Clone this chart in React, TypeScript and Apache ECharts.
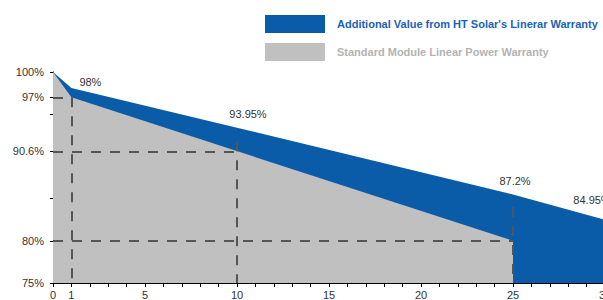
import React, { useEffect, useRef } from "react";
import * as echarts from "echarts";

const years = [0, 1, 10, 25, 30];
const htValues = [100, 98.1, 93.4, 85.5, 82.5];
const htLabels = ["", "98%", "93.95%", "87.2%", "84.95%"];
const stdYears = [0, 1, 25];
const stdValues = [100, 97, 80];
const xLabelValues = [0, 1, 5, 10, 15, 20, 25, 30];
const yLabelValues = [75, 80, 90.6, 97, 100];
const yTickValues = [75, 80, 85, 90.6, 95, 97, 100];
const seriesNames = [
  "Additional Value from HT Solar's Linerar Warranty",
  "Standard Module Linear Power Warranty",
];
// reference guide lines: [x1, y1, x2, y2]
const guideLines: number[][] = [
  [0, 97, 1, 97],
  [1, 97, 1, 75],
  [0, 90.6, 10, 90.6],
  [10, 91.8, 10, 75],
  [0, 80, 25, 80],
  [25, 84, 25, 75],
];

const FONT = "'Liberation Sans', Arial, sans-serif";
const BLUE = "#0b5ca8";
const GRAY = "#c0c0c0";

const labelOffsets: number[][] = [
  [0, 0],
  [19, -6],
  [11, -14],
  [2, -13],
  [-13, -20],
];

export default function App() {
  const ref = useRef<HTMLDivElement>(null);
  useEffect(() => {
    if (!ref.current) return;
    const chart = echarts.init(ref.current, null, { renderer: "svg" });
    const htData = years.map((y, i) => ({
      value: [y, htValues[i]],
      label: {
        show: htLabels[i] !== "",
        position: "inside",
        formatter: htLabels[i],
        offset: labelOffsets[i],
        color: "#333",
        fontSize: 11,
        fontFamily: FONT,
      },
    }));
    const stdData = stdYears.map((y, i) => [y, stdValues[i]]);
    chart.setOption({
      animation: false,
      grid: {
        left: 53,
        top: 72,
        width: 552,
        height: 211,
        containLabel: false,
        outerBoundsMode: "none",
      },
      legend: {
        orient: "vertical",
        left: 260,
        top: 10,
        itemWidth: 60,
        itemHeight: 18,
        itemGap: 10,
        icon: "rect",
        selectedMode: false,
        data: [
          { name: seriesNames[0], textStyle: { color: "#1a62b6" } },
          { name: seriesNames[1], textStyle: { color: "#b3b3b3" } },
        ],
        textStyle: {
          fontWeight: "bold",
          fontSize: 11,
          fontFamily: FONT,
          padding: [0, 0, 0, 7],
        },
      },
      xAxis: {
        type: "value",
        min: 0,
        max: 30,
        interval: 1,
        axisLine: { lineStyle: { color: "#000", width: 1 } },
        axisTick: { show: true, length: 4, lineStyle: { color: "#000" } },
        axisLabel: {
          customValues: xLabelValues,
          margin: 6,
          color: "#333",
          fontSize: 11,
          fontFamily: FONT,
        },
        splitLine: { show: false },
      },
      yAxis: {
        type: "value",
        min: 75,
        max: 100,
        axisLine: { show: true, lineStyle: { color: "#000", width: 1 } },
        axisTick: {
          show: true,
          length: 3,
          customValues: yTickValues,
          lineStyle: { color: "#000" },
        },
        axisLabel: {
          customValues: yLabelValues,
          formatter: (v: number) => v + "%",
          margin: 9,
          color: "#333",
          fontSize: 11,
          fontFamily: FONT,
        },
        splitLine: { show: false },
      },
      series: [
        {
          name: seriesNames[0],
          type: "line",
          data: htData,
          color: BLUE,
          symbol: "circle",
          symbolSize: 0,
          showSymbol: true,
          lineStyle: { width: 0, color: BLUE },
          itemStyle: { color: BLUE },
          areaStyle: { color: BLUE, opacity: 1, origin: "start" },
          z: 2,
        },
        {
          name: seriesNames[1],
          type: "line",
          data: stdData,
          color: GRAY,
          showSymbol: false,
          lineStyle: { width: 0, color: GRAY },
          itemStyle: { color: GRAY },
          areaStyle: { color: GRAY, opacity: 1, origin: "start" },
          z: 3,
          markLine: {
            silent: true,
            symbol: ["none", "none"],
            label: { show: false },
            lineStyle: { color: "#555", width: 2, type: [10, 9] },
            data: guideLines.map((g) => [
              { coord: [g[0], g[1]] },
              { coord: [g[2], g[3]] },
            ]),
          },
        },
      ],
    });
    return () => chart.dispose();
  }, []);
  return (
    <div
      style={{
        position: "fixed",
        left: 0,
        top: 0,
        width: 603,
        height: 300,
        overflow: "hidden",
        background: "#fff",
      }}
    >
      <div ref={ref} style={{ width: 603, height: 300 }} />
    </div>
  );
}
